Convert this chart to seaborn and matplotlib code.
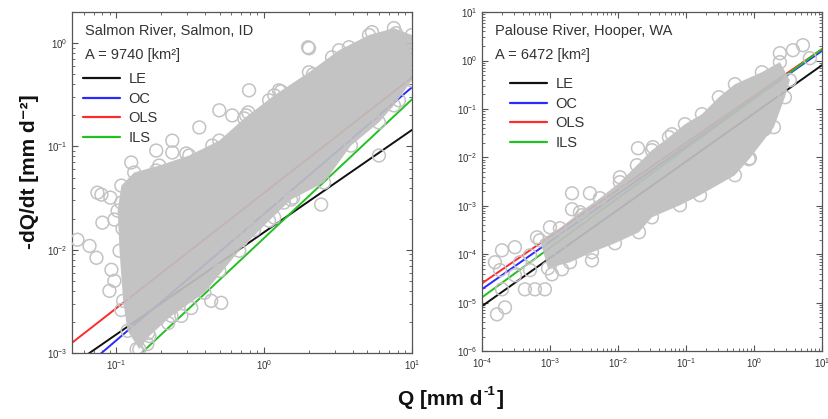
import numpy as np
import pandas as pd
import matplotlib
matplotlib.use("Agg")
import matplotlib.pyplot as plt
import seaborn as sns
from matplotlib.lines import Line2D

sns.set_theme(style="ticks")
plt.rcParams['font.family'] = ['Liberation Sans', 'DejaVu Sans']
plt.rcParams['mathtext.fontset'] = 'custom'
plt.rcParams['mathtext.rm'] = 'Liberation Sans'
plt.rcParams['mathtext.bf'] = 'Liberation Sans:bold'

# ---------------- data ----------------
methods = ["LE", "OC", "OLS", "ILS"]
method_colors = ["#111111", "#2a2aff", "#ff2a2a", "#22c022"]

# fitted power laws  -dQ/dt = a * Q^b
salmon_a = [0.0148, 0.0223, 0.0356, 0.0130]
salmon_b = [0.99, 1.225, 1.117, 1.342]
palouse_a = [0.081, 0.164, 0.185, 0.162]
palouse_b = [0.995, 0.984, 0.967, 1.025]

# dense core of the recession cloud (outline)
salmon_core_x = [0.102, 0.108, 0.132, 0.195, 0.311, 0.497, 0.733, 1.17, 2.01, 3.21, 5.12, 7.55, 10.0,
                 10.0, 7.55, 5.98, 3.87, 2.54, 1.52, 1.08, 0.678, 0.394, 0.236, 0.167, 0.143, 0.119, 0.111, 0.105]
salmon_core_y = [0.0239, 0.0418, 0.056, 0.0654, 0.0818, 0.114, 0.187, 0.313, 0.523, 0.855, 1.20, 1.40, 1.2,
                 0.437, 0.25, 0.171, 0.102, 0.0447, 0.0306, 0.0191, 0.00977, 0.00383, 0.00229, 0.00146,
                 0.00109, 0.00164, 0.0032, 0.00977]
# scattered points around the core
salmon_pts_x = [2.01, 0.608, 0.755, 0.0744, 0.126, 0.139, 0.186, 0.239, 0.297, 0.446, 1.30, 1.78, 5.37,
                7.80, 9.25, 5.98, 8.17, 0.0545, 0.0658, 0.0804, 0.0733, 0.0897, 0.0969, 0.110, 0.438,
                0.321, 0.247, 0.162, 0.137, 2.43, 0.883, 0.497, 0.0792, 0.091, 0.164, 1.17, 0.855, 1.36,
                1.57, 1.98, 0.78, 8.83, 8.43, 1.26, 2.14,
                0.79, 1.08, 0.497, 0.364, 0.239, 0.186, 2.88, 3.75, 6.27, 0.108, 0.0969, 0.0925, 0.108,
                0.224, 0.275, 0.512, 0.70]
salmon_pts_y = [0.894, 0.200, 0.200, 0.0357, 0.070, 0.0468, 0.0585, 0.0875, 0.0855, 0.102, 0.342, 0.350,
                1.28, 1.25, 0.64, 0.0818, 0.280, 0.0125, 0.0109, 0.0183, 0.00836, 0.0040, 0.0050, 0.016,
                0.0032, 0.00273, 0.00299, 0.00122, 0.00109, 0.0274, 0.0205, 0.00625, 0.0342, 0.032,
                0.00156, 0.0205, 0.0156, 0.0286, 0.032, 0.914, 0.214, 0.764, 0.489, 0.350, 0.50,
                0.35, 0.28, 0.224, 0.153, 0.114, 0.0914, 0.731, 0.914, 1.0, 0.0286, 0.0196, 0.0064,
                0.00261, 0.00195, 0.00229, 0.00306, 0.0125]

palouse_core_x = [7.13e-4, 1.40e-3, 2.76e-3, 5.43e-3, 0.0107, 0.019, 0.0316, 0.0562, 0.0966, 0.172, 0.305,
                  0.526, 1.31, 2.41, 3.38, 2.86, 1.97, 0.873, 0.526, 0.161, 0.0817, 0.0316, 0.0204,
                  9.04e-3, 4.15e-3, 1.97e-3, 9.35e-4]
palouse_core_y = [1.95e-4, 3.44e-4, 7.38e-4, 1.44e-3, 3.08e-3, 6.9e-3, 0.0141, 0.0261, 0.0485, 0.0782,
                  0.175, 0.325, 0.575, 0.927, 0.394, 0.175, 0.0421, 9.6e-3, 4.29e-3, 1.66e-3, 1.03e-3,
                  5.8e-4, 2.85e-4, 1.69e-4, 1.10e-4, 6.84e-5, 5.14e-5]
palouse_pts_x = [5.26, 3.75, 2.41, 6.66, 1.45, 0.843, 0.0327, 2.11e-3, 2.11e-3, 2.96e-3, 1.0e-3, 6.44e-4,
                 3.05e-4, 1.97e-4, 1.55e-4, 6.01e-4, 8.43e-4, 4.28e-4, 1.97e-4, 2.18e-4, 1.66e-4, 4.15e-3,
                 1.50e-3, 1.07e-3, 1.84e-4, 3.62e-4, 5.08e-4, 3.87e-3, 0.0107, 0.0197, 5.08e-4, 3.05e-4,
                 1.40e-3, 0.0622]
palouse_pts_y = [2.08, 1.64, 1.42, 1.12, 0.0383, 9.2e-3, 0.0163, 1.82e-3, 8.5e-4, 6.4e-4, 3.61e-4, 2.24e-4,
                 1.40e-4, 1.21e-4, 6.84e-5, 1.89e-5, 1.89e-5, 1.89e-5, 1.89e-5, 8.0e-6, 5.75e-6, 7.5e-5,
                 4.9e-5, 3.86e-5, 4.7e-5, 6.84e-5, 9.5e-5, 1.82e-3, 3.9e-3, 0.0155, 4.7e-5, 3.68e-5,
                 1.21e-4, 0.0301]

panels = [
    dict(title="Salmon River, Salmon, ID", area="A = 9740 [km²]", a=salmon_a, b=salmon_b,
         cx=salmon_core_x, cy=salmon_core_y, px=salmon_pts_x, py=salmon_pts_y,
         xlim=(0.0501, 10.0), ylim=(1e-3, 2.0), rect=[0.0869, 0.1575, 0.410, 0.8135],
         leg_anchor=(-0.005, 0.862)),
    dict(title="Palouse River, Hooper, WA", area="A = 6472 [km²]", a=palouse_a, b=palouse_b,
         cx=palouse_core_x, cy=palouse_core_y, px=palouse_pts_x, py=palouse_pts_y,
         xlim=(1e-4, 10.0), ylim=(1e-6, 10.0), rect=[0.5814, 0.1620, 0.410, 0.8090],
         leg_anchor=(0.045, 0.847)),
]

GRAY = (0.765, 0.765, 0.765)
FILL_ALPHA = 0.93
fill_level = (0.765 - (1 - FILL_ALPHA)) / FILL_ALPHA
FILL = (fill_level, fill_level, fill_level)

fig = plt.figure(figsize=(8.29, 4.19), dpi=100)
axes = []

for p in panels:
    ax = fig.add_axes(p["rect"])
    axes.append(ax)
    ax.set_xscale("log")
    ax.set_yscale("log")
    ax.set_xlim(*p["xlim"])
    ax.set_ylim(*p["ylim"])

    # fitted lines
    xs = np.array(p["xlim"])
    for name, col, a, b in zip(methods, method_colors, p["a"], p["b"]):
        df = pd.DataFrame({"Q": xs, "R": a * xs ** b})
        sns.lineplot(data=df, x="Q", y="R", ax=ax, color=col, lw=1.4, zorder=1, sort=False,
                     estimator=None)

    # dense part of the cloud
    ax.fill(p["cx"], p["cy"], color=FILL, alpha=FILL_ALPHA, lw=0, zorder=2)
    # circles
    allx = list(p["cx"]) + list(p["px"])
    ally = list(p["cy"]) + list(p["py"])
    sns.scatterplot(x=allx, y=ally, ax=ax, s=85, marker="o", facecolor="none",
                    edgecolor=GRAY, linewidth=1.1, zorder=3)

    ax.text(0.038, 0.944, p["title"], transform=ax.transAxes, va="center", ha="left",
            fontsize=10.5, color="#333333")
    ax.text(0.038, 0.874, p["area"], transform=ax.transAxes, va="center", ha="left",
            fontsize=10.5, color="#333333")

    handles = [Line2D([], [], color=c, lw=1.6) for c in method_colors]
    ax.legend(handles, methods, loc="upper left", bbox_to_anchor=p["leg_anchor"], frameon=False,
              fontsize=10.5, handlelength=2.5, handletextpad=0.6, labelspacing=0.38,
              labelcolor="#333333")

    for s in ax.spines.values():
        s.set_color("#555555")
        s.set_linewidth(0.9)
    ax.tick_params(which="both", direction="in", top=True, right=True, colors="#555555",
                   labelcolor="#333333", labelsize=7)
    ax.tick_params(which="major", length=4, width=0.8)
    ax.tick_params(which="minor", length=2, width=0.6)
    ax.set_xlabel("")
    ax.set_ylabel("")
    ax.xaxis.label.set_visible(False)
    ax.yaxis.label.set_visible(False)

fig.text(0.036, 0.59, "-dQ/dt [mm d⁻²]", rotation=90, ha="center", va="center",
         fontsize=15, fontweight="bold", color="#111111")

# x label built from pieces so the superscript sits cleanly
t1 = fig.text(0.582, 0.025, "Q [mm d", ha="right", va="bottom",
              fontsize=15, fontweight="bold", color="#111111")
t2 = axes[0].annotate("-1", xy=(1.0, 0.55), xycoords=t1, xytext=(0.8, 0), textcoords="offset points",
                      ha="left", va="bottom", fontsize=9.5, fontweight="bold", color="#111111",
                      annotation_clip=False)
t3 = axes[0].annotate("]", xy=(1.0, 0.0), xycoords=(t2, t1), xytext=(0.8, 0), textcoords="offset points",
                      ha="left", va="bottom", fontsize=15, fontweight="bold", color="#111111",
                      annotation_clip=False)

fig.savefig("out.png", dpi=100)
